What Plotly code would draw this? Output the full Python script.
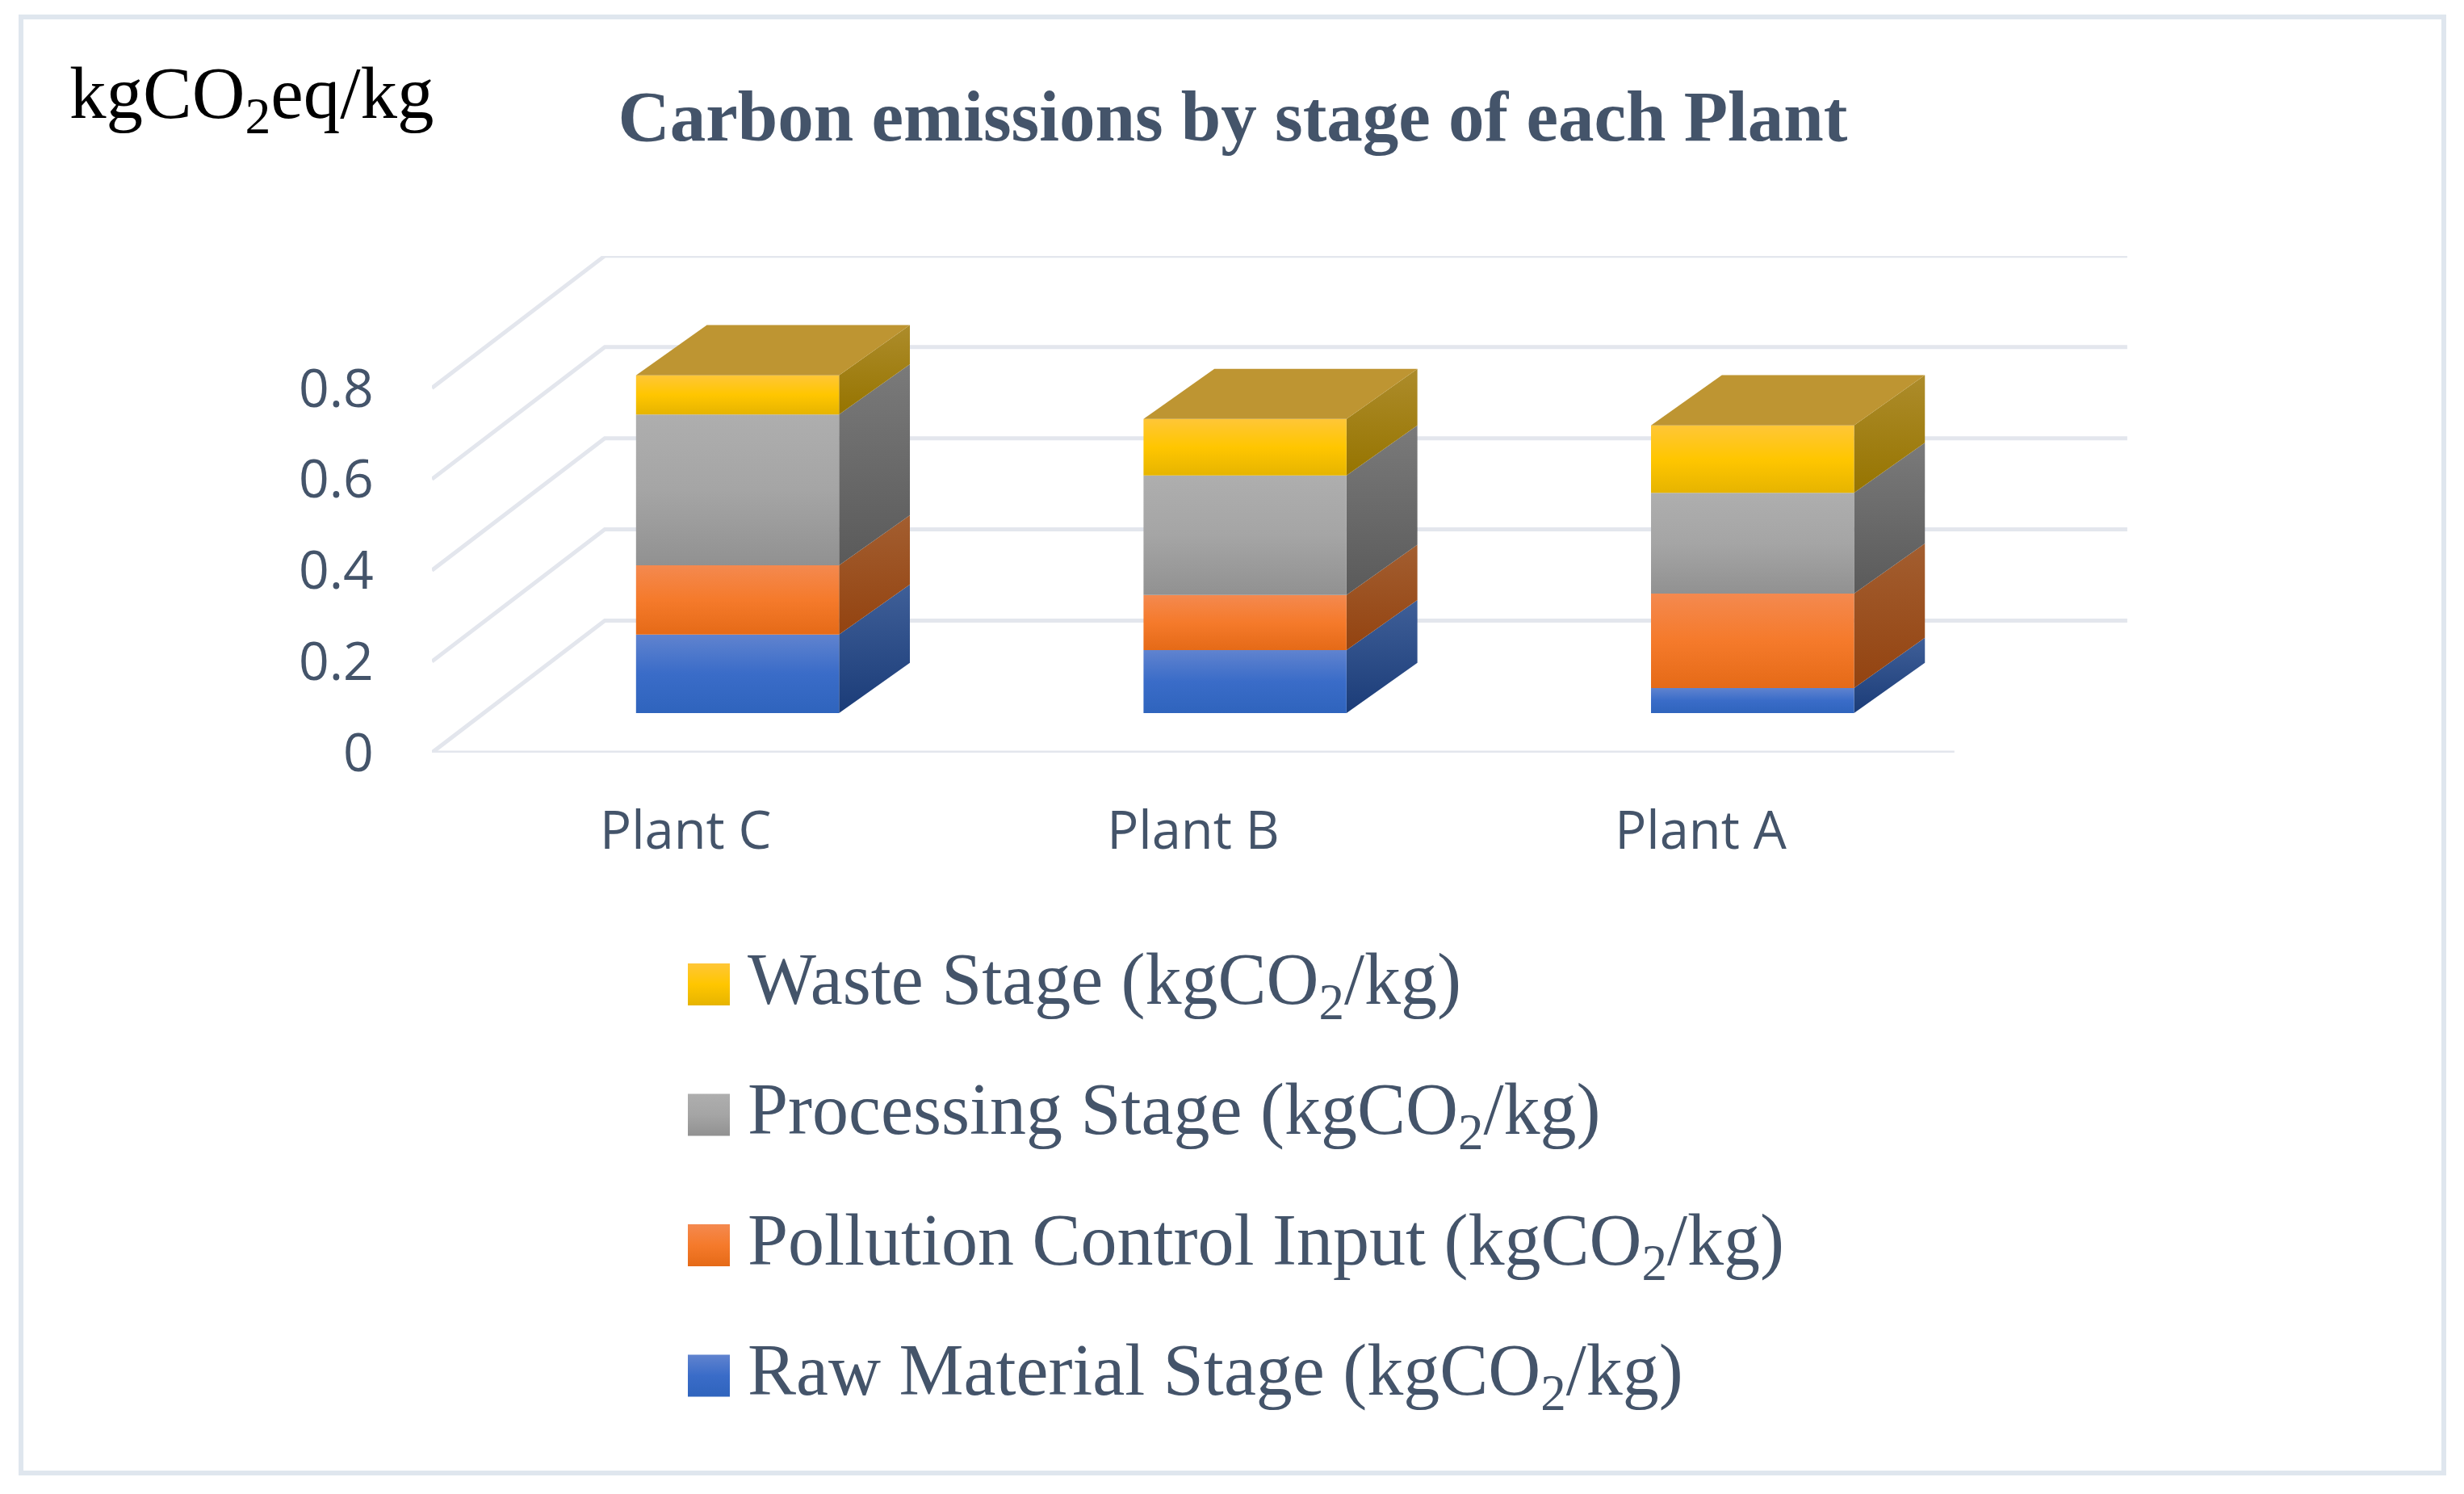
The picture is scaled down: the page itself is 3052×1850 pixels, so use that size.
import plotly.graph_objects as go

# Values (kgCO2/kg)
plants = ['Plant C', 'Plant B', 'Plant A']
raw_material = [0.172, 0.138, 0.055]
pollution_control = [0.152, 0.121, 0.207]
processing = [0.331, 0.262, 0.221]
waste = [0.086, 0.124, 0.148]

y_ticks = [0, 0.2, 0.4, 0.6, 0.8]
y_tick_labels = ['0', '0.2', '0.4', '0.6', '0.8']

W, H = 3052, 1850
PAGE_MARGIN = 8   # the browser's default body margin pushes the figure by this much
TEXT = '#44546A'
GRID = '#E3E6ED'

# The fake 3D box: how far the back wall is shifted from the front edge, in axis units
WALL_DX = 0.3406
WALL_DY = 0.2897
BAR_WIDTH = 0.4
BAR_NEAR = 0.30
BAR_FAR_X = 0.71
BAR_FAR_Y = 0.68

# Plot box in page pixels
LEFT, RIGHT, TOP, BOTTOM = 535, 2637, 317, 932

# name, values, front gradient, side gradient, legend row
series = [
    ('Raw Material Stage (kgCO<sub>2</sub>/kg)', raw_material,
     ['#6083CF', '#3A6CC8', '#2F64BD'], ['#3F5F98', '#1B3C78'], 3),
    ('Pollution Control Input (kgCO<sub>2</sub>/kg)', pollution_control,
     ['#F4894F', '#F57A2B', '#E56A17'], ['#A35E30', '#934310'], 2),
    ('Processing Stage (kgCO<sub>2</sub>/kg)', processing,
     ['#AEAEAE', '#A5A5A5', '#919191'], ['#7A7A7A', '#5A5A5A'], 1),
    ('Waste Stage (kgCO<sub>2</sub>/kg)', waste,
     ['#FFC637', '#FFC600', '#E6B400'], ['#AD8C2B', '#967400'], 0),
]


def page_x(px):
    return (px - PAGE_MARGIN) / W


def page_y(px):
    return 1 - (px - PAGE_MARGIN) / H


def gradient(colours):
    # the vertical gradient runs bottom to top
    colours = colours[::-1]
    stops = [i / (len(colours) - 1) for i in range(len(colours))]
    return dict(type='vertical', colorscale=list(zip(stops, colours)))


def face(xs, ys, colours=None, flat=None, xaxis='x', yaxis='y', name=None):
    trace = go.Scatter(x=xs, y=ys, mode='lines', fill='toself', line=dict(width=0),
                       xaxis=xaxis, yaxis=yaxis, showlegend=False, name=name, hoverinfo='name')
    if colours:
        trace.fillgradient = gradient(colours)
    else:
        trace.fillcolor = flat
    return trace


fig = go.Figure()

# Floor and back wall lines, all follow the value axis
for v in y_ticks:
    fig.add_trace(go.Scatter(
        x=[-0.5, -0.5 + WALL_DX, 2.5 + WALL_DX],
        y=[v, v + WALL_DY, v + WALL_DY],
        mode='lines', line=dict(color=GRID, width=5), showlegend=False, hoverinfo='skip'))
fig.add_trace(go.Scatter(x=[-0.5, 2.5], y=[0, 0], mode='lines',
                         line=dict(color=GRID, width=5), showlegend=False, hoverinfo='skip'))

# Stacked boxes
near_x = WALL_DX * BAR_NEAR
near_y = WALL_DY * BAR_NEAR
side_x = WALL_DX * BAR_FAR_X - near_x
side_y = WALL_DY * BAR_FAR_Y - near_y

for i in range(len(plants)):
    x0 = i - BAR_WIDTH / 2 + near_x
    x1 = i + BAR_WIDTH / 2 + near_x
    bottom = near_y
    for name, values, front_col, side_col, row in series:
        top = bottom + values[i]
        fig.add_trace(face([x1, x1 + side_x, x1 + side_x, x1, x1],
                           [bottom, bottom + side_y, top + side_y, top, bottom],
                           colours=side_col, name=name))
        fig.add_trace(face([x0, x1, x1, x0, x0], [bottom, bottom, top, top, bottom],
                           colours=front_col, name=name))
        bottom = top
    fig.add_trace(face([x0, x1, x1 + side_x, x0 + side_x, x0],
                       [bottom, bottom, bottom + side_y, bottom + side_y, bottom],
                       flat='#BE9532', name=plants[i]))

# Legend swatches on a page-wide pixel axis
annotations = []
for name, values, front_col, side_col, row in series:
    y0 = 1193 + row * 161.5
    fig.add_trace(face([852, 904, 904, 852, 852], [y0 + 52, y0 + 52, y0, y0, y0 + 52],
                       colours=front_col, xaxis='x2', yaxis='y2', name=name))
    annotations.append(dict(
        text=name, xref='paper', yref='paper', x=page_x(924), y=page_y(y0 + 26),
        xanchor='left', yanchor='middle', showarrow=False,
        font=dict(family='Liberation Serif', size=90, color=TEXT)))

annotations.append(dict(
    text='kgCO<sub>2</sub>eq/kg', xref='paper', yref='paper', x=page_x(84), y=page_y(122),
    xanchor='left', yanchor='middle', showarrow=False,
    font=dict(family='Liberation Serif', size=91, color='black')))

fig.update_layout(
    width=W, height=H,
    margin=dict(l=0, r=0, t=0, b=0, autoexpand=False),
    paper_bgcolor='white', plot_bgcolor='rgba(0,0,0,0)',
    showlegend=False,
    title=dict(text='<b>Carbon emissions by stage of each Plant</b>',
               x=page_x(1527), xanchor='center', y=page_y(143), yanchor='middle',
               font=dict(family='Liberation Serif', size=89, color=TEXT)),
    xaxis=dict(domain=[page_x(LEFT), page_x(RIGHT)], range=[-0.5, -0.5 + (RIGHT - LEFT) / 628.6],
               tickmode='array', tickvals=list(range(len(plants))), ticktext=plants,
               showgrid=False, zeroline=False, showline=False,
               ticks='outside', ticklen=40, tickcolor='rgba(0,0,0,0)',
               tickfont=dict(family='Open Sans', size=65, color=TEXT)),
    yaxis=dict(domain=[page_y(BOTTOM), page_y(TOP)], range=[0, (BOTTOM - TOP) / 564.5],
               tickmode='array', tickvals=y_ticks, ticktext=y_tick_labels,
               showgrid=False, zeroline=False, showline=False,
               ticks='outside', ticklen=58, tickcolor='rgba(0,0,0,0)',
               tickfont=dict(family='Open Sans', size=66, color=TEXT)),
    xaxis2=dict(domain=[0, 1], range=[PAGE_MARGIN, W + PAGE_MARGIN], visible=False, anchor='y2'),
    yaxis2=dict(domain=[0, 1], range=[H + PAGE_MARGIN, PAGE_MARGIN], visible=False, anchor='x2'),
    annotations=annotations,
    shapes=[dict(type='rect', xref='paper', yref='paper',
                 x0=page_x(26), x1=page_x(3027), y0=page_y(1824), y1=page_y(21),
                 line=dict(color='#DFE6EE', width=6), layer='below')],
)

fig.write_html("out.html")
